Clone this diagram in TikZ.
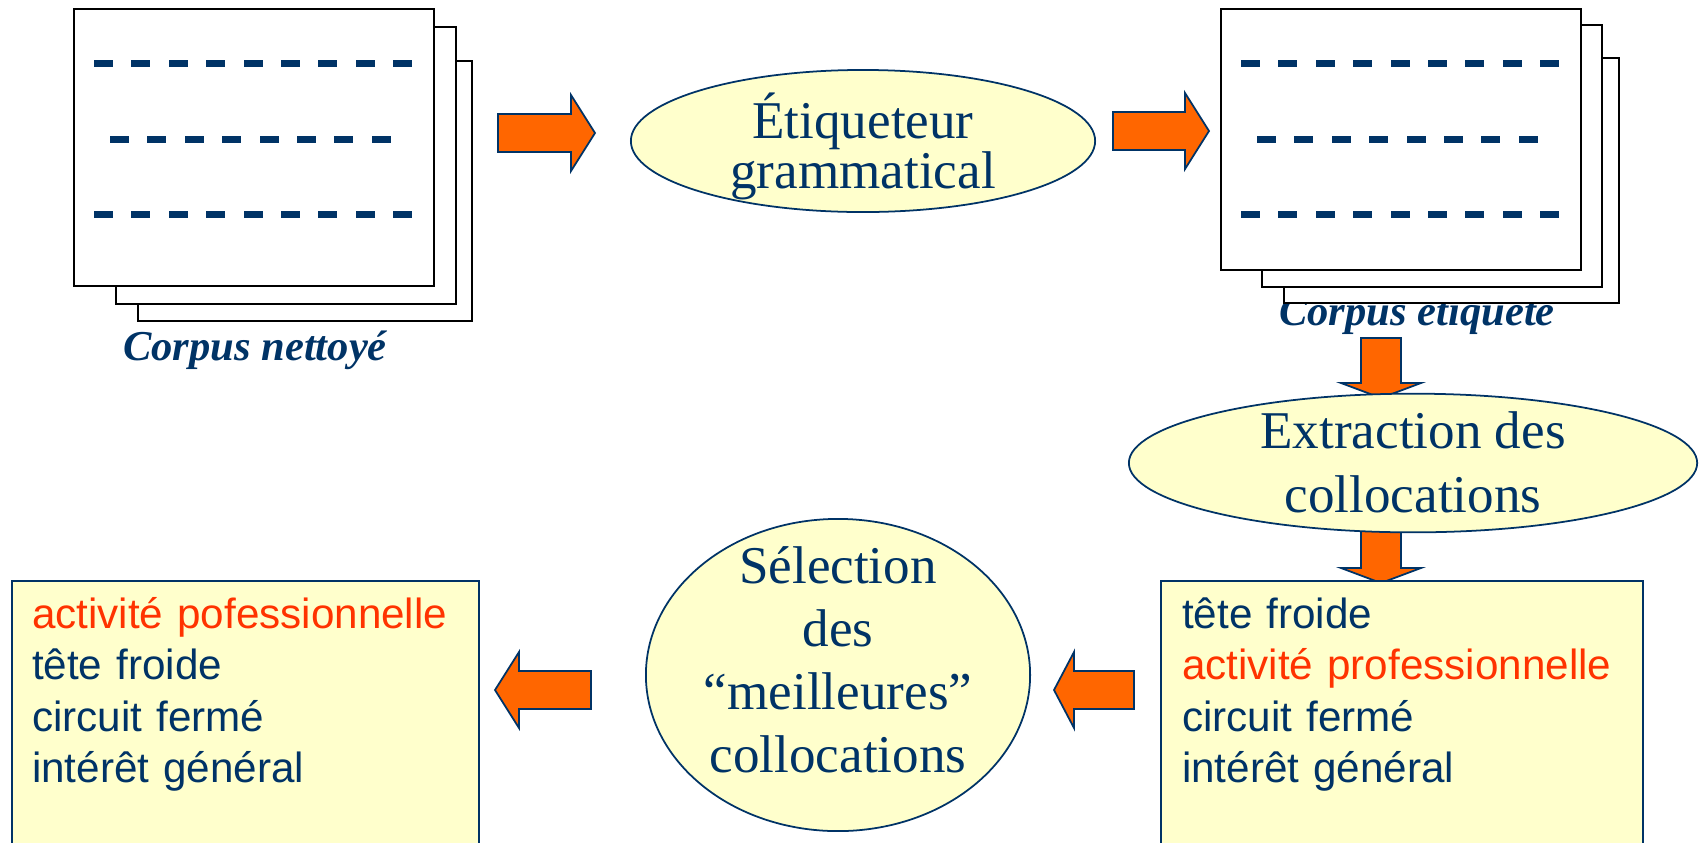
\documentclass[tikz,border=0pt]{standalone}
\usepackage{fontspec}
\setmainfont{Liberation Serif}
\newfontfamily\listfont{Liberation Sans}
\usepackage{tikz}
\usetikzlibrary{shapes}
\definecolor{navy}{RGB}{0,51,102}
\definecolor{paleyellow}{RGB}{255,255,204}
\definecolor{arrorange}{RGB}{255,102,0}
\definecolor{redtext}{RGB}{255,51,0}
\tikzset{
  pagesheet/.style={draw=black, fill=white, line width=0.5pt},
  blockarrow/.style={draw=navy, fill=arrorange, line width=0.5pt, line join=miter},
  oval/.style={ellipse, draw=navy, fill=paleyellow, line width=0.5pt, inner sep=0pt, align=center, text=navy, text depth=0pt},
  listbox/.style={rectangle, draw=navy, fill=paleyellow, line width=0.6pt, inner ysep=0pt, align=left, text=navy, anchor=north west, text height=0.47cm, text depth=2.4cm, font=\listfont\fontsize{12}{14.65}\selectfont},
  captiontext/.style={text=navy, font=\bfseries\itshape\fontsize{12.1}{14}\selectfont, inner sep=0pt, anchor=base}
}
\newcommand{\sheet}[4]{ \filldraw[pagesheet] ( #1 , #2 ) rectangle ( #3 , #4 );}
\newcommand{\dashrow}[3]{ \foreach \k in {1,...,#3} { \fill[navy] ({#1+37.4*(\k-1)},{#2-3.5}) rectangle ++(19,7); } }
\newcommand{\rarrow}[4]{ \filldraw[blockarrow] (#1,#3-19) -- (#2-#4,#3-19) -- (#2-#4,#3-38) -- (#2,#3) -- (#2-#4,#3+38) -- (#2-#4,#3+19) -- (#1,#3+19) -- cycle;}
\newcommand{\larrow}[4]{ \filldraw[blockarrow] (#1,#3-19) -- (#2+#4,#3-19) -- (#2+#4,#3-38) -- (#2,#3) -- (#2+#4,#3+38) -- (#2+#4,#3+19) -- (#1,#3+19) -- cycle;}
\newcommand{\darrow}[4]{ \filldraw[blockarrow] (#1-20,#2) -- (#1-20,#3-#4) -- (#1-40,#3-#4) -- (#1,#3) -- (#1+40,#3-#4) -- (#1+20,#3-#4) -- (#1+20,#2) -- cycle;}

\begin{document}
\begin{tikzpicture}[x=0.01cm, y=-0.01cm]
                \useasboundingbox (0,0) rectangle (1701,842);

                % captions
                \node[captiontext] (capNet) at (255,360) {Corpus nettoyé};
                \node[captiontext] (capEti) at (1417,325) {Corpus étiqueté};

                % left stack
                \sheet{138}{61}{472}{321}
                \sheet{116}{27}{456}{304}
                \sheet{74}{9}{434}{286}
                \dashrow{94}{63}{9}
                \dashrow{110}{139}{8}
                \dashrow{94}{214}{9}

                % right stack
                \sheet{1284}{58}{1619}{303}
                \sheet{1262}{25}{1602}{287}
                \sheet{1221}{9}{1581}{270}
                \dashrow{1241}{63}{9}
                \dashrow{1257}{139}{8}
                \dashrow{1241}{214}{9}

                % arrows
                \rarrow{498}{595}{133}{24}
                \rarrow{1113}{1209}{131}{24}
                \darrow{1381}{338}{398}{15}
                \darrow{1381}{515}{583}{15}
                \larrow{1134}{1054}{690}{20}
                \larrow{591}{495}{690}{24}

                % ovals
                \node[oval, minimum width=4.64cm, minimum height=1.42cm, text height=0.94cm,
                      font=\fontsize{15.1}{14.2}\selectfont] (tagger) at (863,141) {Étiqueteur\\grammatical};
                \node[oval, minimum width=5.68cm, minimum height=1.23cm, text height=0.98cm,
                      font=\fontsize{15.1}{18.2}\selectfont] (extract) at (1413,463) {Extraction des\\collocations};
                \node[oval, minimum width=3.84cm, minimum height=3.12cm, text height=1.94cm,
                      font=\fontsize{15.1}{17.9}\selectfont] (select) at (838,675) {Sélection\\des\\“meilleures”\\collocations};

                % lists
                \node[listbox, text width=4.40cm, inner xsep=0.21cm] (listAll) at (1160,580)
                      {tête froide\\{\color{redtext}activité professionnelle}\\circuit fermé\\intérêt général};
                \node[listbox, text width=4.27cm, inner xsep=0.20cm] (listBest) at (11,580)
                      {{\color{redtext}activité pofessionnelle}\\tête froide\\circuit fermé\\intérêt général};
\end{tikzpicture}
\end{document}
